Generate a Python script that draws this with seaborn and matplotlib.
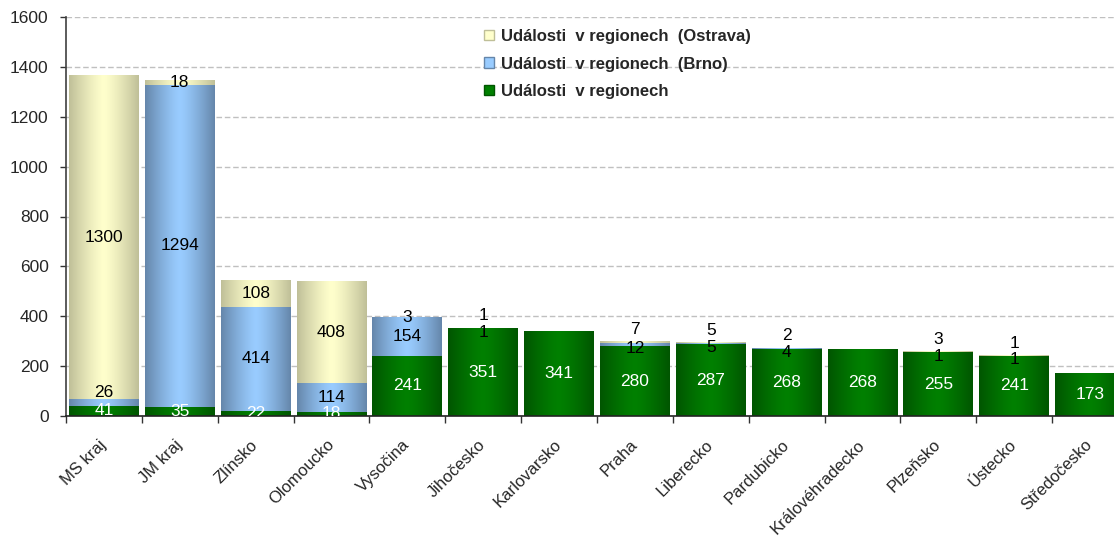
import matplotlib
matplotlib.use("Agg")
import matplotlib.pyplot as plt
import numpy as np
import pandas as pd
import seaborn as sns
from matplotlib.colors import LinearSegmentedColormap
from matplotlib.patches import Patch

regions = ["MS kraj", "JM kraj", "Zlínsko", "Olomoucko", "Vysočina", "Jihočesko",
           "Karlovarsko", "Praha", "Liberecko", "Pardubicko", "Královéhradecko",
           "Plzeňsko", "Ústecko", "Středočesko"]
udalosti = [41, 35, 22, 18, 241, 351, 341, 280, 287, 268, 268, 255, 241, 173]
brno = [26, 1294, 414, 114, 154, 1, 0, 12, 5, 4, 0, 1, 1, 0]
ostrava = [1300, 18, 108, 408, 3, 1, 0, 7, 5, 2, 0, 3, 1, 0]

lab_ostrava = "Události  v regionech  (Ostrava)"
lab_brno = "Události  v regionech  (Brno)"
lab_plain = "Události  v regionech"

# (edge colour, centre colour) for the cylinder-like gradient
grad = {
    "ostrava": ("#bfbf98", "#ffffcc"),
    "brno": ("#6586aa", "#99ccff"),
    "plain": ("#005500", "#008000"),
}

df = pd.DataFrame({"region": regions, "udalosti": udalosti, "brno": brno, "ostrava": ostrava})
df["l1"] = df["udalosti"]
df["l2"] = df["udalosti"] + df["brno"]
df["l3"] = df["l2"] + df["ostrava"]

sns.set_style("white")
plt.rcParams["font.family"] = ["Liberation Sans", "DejaVu Sans"]

fig = plt.figure(figsize=(11.14, 5.36), dpi=100)
ax = fig.add_axes([66 / 1114, 1 - 416 / 536, 1062 / 1114, 399 / 536])

layers = [("l3", "ostrava"), ("l2", "brno"), ("l1", "plain")]
for col, key in layers:
    sns.barplot(data=df, x="region", y=col, order=regions, color=grad[key][1],
                saturation=1, width=0.92, ax=ax, zorder=2)

ax.set_xlim(-0.5, len(regions) - 0.5)
ax.set_ylim(0, 1600)

# replace flat fills with horizontal gradients clipped to each bar
prof = 1 - np.abs(np.linspace(-1, 1, 256)) ** 1.3
for cont, (col, key) in zip(ax.containers, layers):
    cmap = LinearSegmentedColormap.from_list(key, [grad[key][0], grad[key][1]])
    for p in cont.patches:
        x0, w = p.get_x(), p.get_width()
        y0, h = p.get_y(), p.get_height()
        if h <= 0:
            continue
        p.set_facecolor("none")
        p.set_linewidth(0)
        im = ax.imshow(prof[np.newaxis, :], cmap=cmap, aspect="auto",
                       extent=(x0, x0 + w, y0, y0 + h), zorder=2,
                       interpolation="bilinear")
        im.set_clip_path(p)

ax.set_xlim(-0.5, len(regions) - 0.5)
ax.set_ylim(0, 1600)

# value labels
fs = 12.5
for i in range(len(regions)):
    g, b, o = udalosti[i], brno[i], ostrava[i]
    ax.text(i, g / 2, str(g), ha="center", va="center", color="white",
            fontsize=fs, zorder=5, clip_on=True)
    both_small = b < 30 and o < 30
    if b > 0:
        off = -3 if both_small else 0
        if b < 60 and g < 60:
            off = 7
        ax.annotate(str(b), (i, g + b / 2), xytext=(0, off), textcoords="offset points",
                    ha="center", va="center", color="black", fontsize=fs,
                    zorder=5, annotation_clip=False)
    if o > 0:
        off = 9 if both_small else 0
        ax.annotate(str(o), (i, g + b + o / 2), xytext=(0, off), textcoords="offset points",
                    ha="center", va="center", color="black", fontsize=fs,
                    zorder=5, annotation_clip=False)

ax.set_yticks(np.arange(0, 1601, 200))
ax.yaxis.grid(True, linestyle=(0, (4, 2)), color="#c0c0c0", linewidth=1)
ax.set_axisbelow(True)
ax.tick_params(axis="y", direction="out", length=4.5, width=1, color="#333333",
               labelsize=12.5, pad=8, left=True)

ax.set_xticks(range(len(regions)))
ax.set_xticklabels(regions, rotation=45, ha="right", va="center",
                   rotation_mode="anchor", fontsize=12)
ax.set_xticks(np.arange(-0.5, len(regions), 1), minor=True)
ax.tick_params(axis="x", which="major", length=0, pad=19)
ax.tick_params(axis="x", which="minor", direction="out", length=5, width=1,
               color="#333333", bottom=True)

for s in ["top", "right"]:
    ax.spines[s].set_visible(False)
ax.spines["left"].set_color("#404040")
ax.spines["left"].set_linewidth(1.2)
ax.spines["bottom"].set_color("#222222")
ax.spines["bottom"].set_linewidth(1.2)
ax.set_xlabel("")
ax.set_ylabel("")

handles = [Patch(facecolor=grad["ostrava"][1], edgecolor=grad["ostrava"][0], label=lab_ostrava),
           Patch(facecolor=grad["brno"][1], edgecolor=grad["brno"][0], label=lab_brno),
           Patch(facecolor=grad["plain"][1], edgecolor=grad["plain"][0], label=lab_plain)]
fig.legend(handles=handles, loc="upper left", bbox_to_anchor=(469 / 1114, 1 - 14 / 536),
           frameon=False, prop={"weight": "bold", "size": 12},
           handlelength=0.6, handleheight=0.6, handletextpad=0.4, labelspacing=0.75)

fig.savefig("out.png", dpi=100)
